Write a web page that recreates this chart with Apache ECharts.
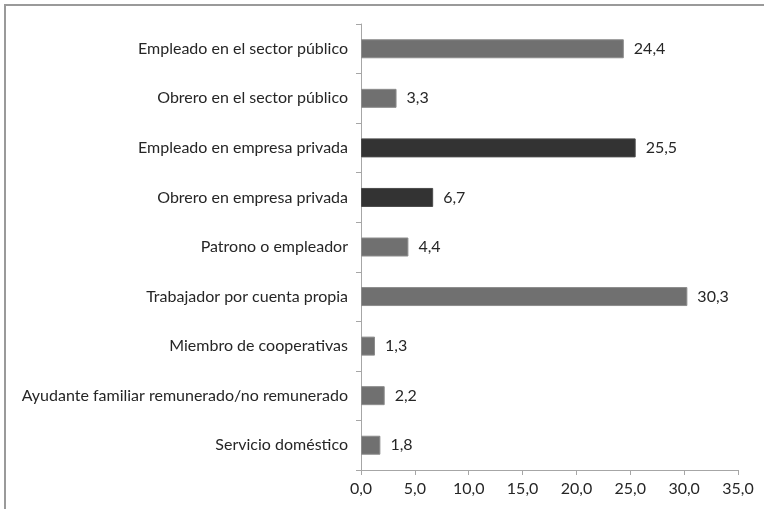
<!DOCTYPE html>
<html>
<head>
<meta charset="utf-8">
<style>
  html, body { margin: 0; padding: 0; background: #fff; }
  #chart { width: 764px; height: 509px; }
</style>
<script src="https://cdn.jsdelivr.net/npm/echarts@6/dist/echarts.min.js"></script>
</head>
<body>
<div id="chart"></div>
<script>
// Categories listed top to bottom
const categories = [
  'Empleado en el sector público',
  'Obrero en el sector público',
  'Empleado en empresa privada',
  'Obrero en empresa privada',
  'Patrono o empleador',
  'Trabajador por cuenta propia',
  'Miembro de cooperativas',
  'Ayudante familiar remunerado/no remunerado',
  'Servicio doméstico'
];
const values = [24.4, 3.3, 25.5, 6.7, 4.4, 30.3, 1.3, 2.2, 1.8];
// Private-sector rows are shaded darker
const highlighted = [false, false, true, true, false, false, false, false, false];
const xTicks = [0, 5, 10, 15, 20, 25, 30, 35];

const font = 'Lato, "Open Sans", sans-serif';
const fmt = v => v.toFixed(1).replace('.', ',');

const chart = echarts.init(document.getElementById('chart'));
chart.setOption({
  animation: false,
  backgroundColor: '#fff',
  graphic: [{
    type: 'rect',
    shape: { x: 5, y: 5, width: 800, height: 600 },
    style: { fill: 'none', stroke: '#9a9a9a', lineWidth: 2 },
    silent: true
  }],
  grid: { left: 361, right: 26, top: 24, bottom: 39, containLabel: false },
  xAxis: {
    type: 'value',
    min: xTicks[0],
    max: xTicks[xTicks.length - 1],
    interval: 5,
    axisLine: { show: true, lineStyle: { color: '#a6a6a6', width: 1 } },
    axisTick: { show: true, length: 5, lineStyle: { color: '#a6a6a6' } },
    splitLine: { show: false },
    axisLabel: {
      color: '#262626', fontFamily: font, fontSize: 16, margin: 11,
      formatter: v => fmt(v)
    }
  },
  yAxis: {
    type: 'category',
    inverse: true,
    data: categories,
    axisLine: { show: true, lineStyle: { color: '#a6a6a6', width: 1 } },
    axisTick: { show: true, length: 5, lineStyle: { color: '#a6a6a6' } },
    axisLabel: { color: '#262626', fontFamily: font, fontSize: 16, margin: 13 }
  },
  series: [{
    type: 'bar',
    barWidth: 19,
    data: values.map((v, i) => ({
      value: v,
      itemStyle: {
        color: highlighted[i] ? '#333333' : '#707070',
        borderColor: highlighted[i] ? '#4a4a4a' : '#8c8c8c',
        borderWidth: 1
      }
    })),
    label: {
      show: true,
      position: 'right',
      distance: 10,
      color: '#262626',
      fontFamily: font,
      fontSize: 16,
      formatter: p => fmt(p.value)
    }
  }]
});
</script>
</body>
</html>
